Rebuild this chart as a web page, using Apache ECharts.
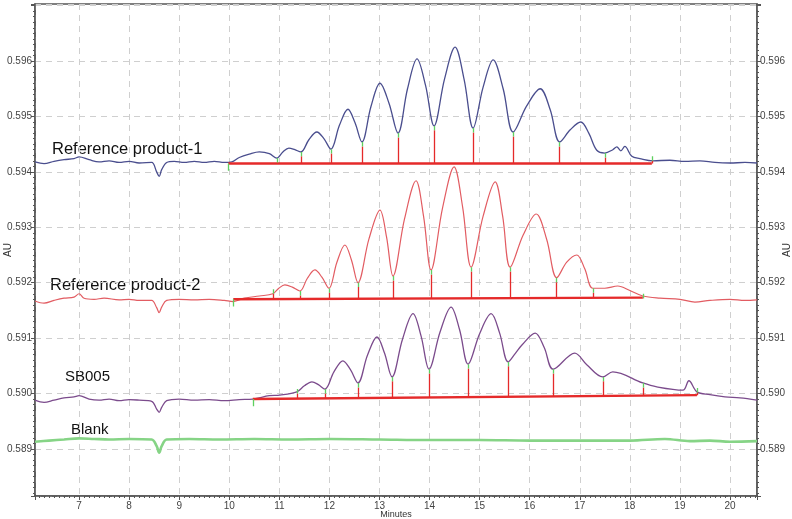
<!DOCTYPE html>
<html><head><meta charset="utf-8">
<script src="https://cdn.jsdelivr.net/npm/echarts@6/dist/echarts.min.js"></script>
<style>html,body{margin:0;padding:0;background:#fff}#c{width:792px;height:519px}</style>
</head><body><div id="c"></div>
<script>
// ---- tick labels ----
const xTickLabels = ['7','8','9','10','11','12','13','14','15','16','17','18','19','20'];
const yTickLabels = ['0.589','0.590','0.591','0.592','0.593','0.594','0.595','0.596'];

// ---- traces [minutes, AU] ----
const rp1Trace = [[6.12,0.59418],[6.3,0.59415],[6.5,0.59419],[6.7,0.59422],[6.9,0.59424],[7.0,0.59427],[7.2,0.59422],[7.4,0.59418],[7.6,0.59420],[7.8,0.59417],[8.0,0.59419],[8.2,0.59416],[8.45,0.59417],[8.55,0.59400],[8.6,0.59392],[8.65,0.59404],[8.75,0.59417],[8.9,0.59419],[9.1,0.59417],[9.3,0.59419],[9.5,0.59417],[9.7,0.59419],[9.9,0.59417],[10.05,0.59418],[10.2,0.59426],[10.4,0.59432],[10.6,0.59436],[10.8,0.59433],[10.95,0.59425],[11.07,0.59436],[11.19,0.59443],[11.31,0.59440],[11.43,0.59436],[11.59,0.59458],[11.75,0.59472],[11.89,0.59460],[12.03,0.59441],[12.20,0.59484],[12.37,0.59513],[12.51,0.59489],[12.65,0.59454],[12.83,0.59518],[13.01,0.59560],[13.19,0.59524],[13.37,0.59470],[13.56,0.59550],[13.75,0.59604],[13.92,0.59556],[14.09,0.59483],[14.30,0.59568],[14.51,0.59625],[14.69,0.59567],[14.87,0.59479],[15.07,0.59553],[15.27,0.59602],[15.47,0.59550],[15.67,0.59472],[15.94,0.59519],[16.21,0.59550],[16.41,0.59512],[16.60,0.59454],[16.81,0.59476],[17.02,0.59490],[17.18,0.59470],[17.34,0.59439],[17.50,0.59434],[17.66,0.59440],[17.74,0.59445],[17.82,0.59438],[17.90,0.59446],[18.04,0.59428],[18.2,0.59424],[18.46,0.59420],[18.8,0.59421],[19.1,0.59419],[19.4,0.59420],[19.7,0.59417],[20.0,0.59416],[20.3,0.59417],[20.54,0.59416]];
const rp2Trace = [[6.12,0.59167],[6.3,0.59163],[6.5,0.59168],[6.7,0.59172],[6.9,0.59174],[7.0,0.59180],[7.1,0.59172],[7.3,0.59170],[7.5,0.59172],[7.8,0.59169],[8.0,0.59170],[8.2,0.59168],[8.45,0.59168],[8.55,0.59155],[8.6,0.59146],[8.65,0.59156],[8.75,0.59168],[9.0,0.59170],[9.3,0.59169],[9.6,0.59170],[9.9,0.59168],[10.08,0.59166],[10.3,0.59172],[10.6,0.59176],[10.87,0.59180],[10.99,0.59190],[11.11,0.59196],[11.26,0.59192],[11.41,0.59185],[11.56,0.59208],[11.71,0.59223],[11.85,0.59210],[11.99,0.59190],[12.15,0.59237],[12.31,0.59268],[12.44,0.59241],[12.57,0.59200],[12.79,0.59279],[13.01,0.59331],[13.14,0.59283],[13.27,0.59212],[13.50,0.59315],[13.73,0.59384],[13.88,0.59320],[14.03,0.59223],[14.26,0.59335],[14.49,0.59409],[14.66,0.59337],[14.83,0.59228],[15.07,0.59320],[15.31,0.59382],[15.46,0.59320],[15.61,0.59228],[15.87,0.59286],[16.13,0.59324],[16.34,0.59278],[16.54,0.59209],[16.74,0.59237],[16.94,0.59250],[17.10,0.59225],[17.26,0.59190],[17.5,0.59190],[17.76,0.59194],[18.0,0.59186],[18.26,0.59176],[18.6,0.59172],[19.0,0.59170],[19.3,0.59165],[19.6,0.59168],[20.0,0.59170],[20.3,0.59168],[20.54,0.59169]];
const sb005Trace = [[6.12,0.58988],[6.3,0.58984],[6.5,0.58988],[6.7,0.58992],[6.9,0.58994],[7.0,0.58996],[7.2,0.58990],[7.4,0.58988],[7.6,0.58990],[7.8,0.58987],[8.0,0.58989],[8.2,0.58988],[8.45,0.58986],[8.55,0.58972],[8.6,0.58966],[8.65,0.58975],[8.75,0.58987],[9.0,0.58990],[9.3,0.58988],[9.6,0.58989],[9.9,0.58987],[10.2,0.58989],[10.47,0.58990],[10.8,0.58996],[11.01,0.58997],[11.35,0.59003],[11.50,0.59014],[11.65,0.59021],[11.78,0.59016],[11.91,0.59008],[12.09,0.59039],[12.27,0.59059],[12.42,0.59043],[12.57,0.59019],[12.76,0.59069],[12.95,0.59102],[13.10,0.59073],[13.25,0.59030],[13.46,0.59098],[13.67,0.59144],[13.83,0.59104],[13.99,0.59044],[14.21,0.59111],[14.43,0.59156],[14.60,0.59115],[14.77,0.59053],[15.00,0.59108],[15.23,0.59144],[15.40,0.59109],[15.57,0.59057],[15.71,0.59072],[15.85,0.59088],[16.11,0.59109],[16.29,0.59083],[16.47,0.59044],[16.90,0.59073],[17.14,0.59052],[17.46,0.59030],[17.66,0.59039],[18.26,0.59019],[18.54,0.59012],[19.06,0.59006],[19.18,0.59023],[19.34,0.59003],[19.6,0.58998],[19.9,0.58994],[20.2,0.58992],[20.54,0.58988]];
const blankTrace = [[6.12,0.58913],[6.4,0.58915],[6.7,0.58917],[7.0,0.58919],[7.3,0.58918],[7.6,0.58917],[8.0,0.58918],[8.45,0.58917],[8.55,0.58905],[8.6,0.58893],[8.65,0.58905],[8.75,0.58917],[9.2,0.58918],[9.8,0.58917],[10.5,0.58918],[11.2,0.58917],[12.0,0.58918],[13.0,0.58917],[14.0,0.58916],[15.0,0.58916],[16.0,0.58915],[17.0,0.58915],[18.0,0.58915],[18.7,0.58918],[19.2,0.58914],[19.6,0.58915],[20.0,0.58913],[20.54,0.58914]];

// ---- integration baselines [start],[end] and drop lines [minutes, top AU] ----
const rp1Base = [[9.98,0.59415],[18.44,0.59415]];
const rp1Drops = [[10.95,0.59425],[11.43,0.59436],[12.03,0.59441],[12.65,0.59454],[13.37,0.59470],[14.09,0.59483],[14.87,0.59479],[15.67,0.59472],[16.60,0.59454],[17.50,0.59434],[18.44,0.59428]];
const rp2Base = [[10.08,0.59170],[18.26,0.59173]];
const rp2Drops = [[10.87,0.59188],[11.41,0.59185],[11.99,0.59190],[12.57,0.59200],[13.27,0.59212],[14.03,0.59223],[14.83,0.59228],[15.61,0.59228],[16.54,0.59209],[17.26,0.59190],[18.26,0.59180]];
const sb005Base = [[10.47,0.58990],[19.34,0.58997]];
const sb005Drops = [[11.35,0.59008],[11.91,0.59008],[12.57,0.59019],[13.25,0.59030],[13.99,0.59044],[14.77,0.59053],[15.57,0.59057],[16.47,0.59044],[17.46,0.59030],[18.26,0.59019],[19.34,0.59010]];

const traceNames = ['Reference product-1','Reference product-2','SB005','Blank'];

const X_MIN = 6.12, X_MAX = 20.54, Y_MIN = 0.58815, Y_MAX = 0.59703;
const GREEN_LEN = 0.00008, START_LEN = 0.00013;

function baseAt(base, t){
  const [a,b] = base;
  return a[1] + (b[1]-a[1])*(t-a[0])/(b[0]-a[0]);
}
const redSegs = [], greenSegs = [];
[[rp1Base,rp1Drops],[rp2Base,rp2Drops],[sb005Base,sb005Drops]].forEach(([base,drops])=>{
  drops.forEach(([t,v])=>{
    const b = baseAt(base,t);
    redSegs.push({coords:[[t,b],[t,v-GREEN_LEN]]});
    greenSegs.push({coords:[[t,v-GREEN_LEN],[t,v]]});
  });
  greenSegs.push({coords:[[base[0][0],base[0][1]],[base[0][0],base[0][1]-START_LEN]]});
});

const colors = ['#4a4e8e','#e25c62','#7b4b8c','#86d486'];
const widths = [1.3,1.2,1.3,2.6];
const traces = [rp1Trace, rp2Trace, sb005Trace, blankTrace];

const series = traces.map((d,i)=>({
  type:'line', name:traceNames[i], data:d, showSymbol:false, smooth:0.35,
  lineStyle:{color:colors[i], width:widths[i]}, z:2, animation:false
}));
[rp1Base, rp2Base, sb005Base].forEach(b=>{
  series.push({type:'line', data:b, showSymbol:false, lineStyle:{color:'#e52a2a', width:2.4}, z:3, animation:false});
});
series.push({type:'lines', coordinateSystem:'cartesian2d', data:redSegs, lineStyle:{color:'#e52a2a', width:1.3, opacity:1}, z:4, animation:false});
series.push({type:'lines', coordinateSystem:'cartesian2d', data:greenSegs, lineStyle:{color:'#5fd05f', width:1.3, opacity:1}, z:4, animation:false});

const axisColor = '#555';
const yLabelFmt = v => { const s = v.toFixed(3); return yTickLabels.includes(s) ? s : ''; };
const xLabelFmt = v => { const s = String(Math.round(v*1000)/1000); return xTickLabels.includes(s) ? s : ''; };
const yAxisCommon = {
  type:'value', min:Y_MIN, max:Y_MAX, splitNumber:9,
  name:'AU', nameLocation:'middle', nameRotate:90, nameMoveOverlap:false,
  nameTextStyle:{fontFamily:'Liberation Sans', fontSize:10, color:'#333'},
  axisLine:{show:true, lineStyle:{color:axisColor, width:1.5}},
  axisTick:{show:true, length:4, lineStyle:{color:axisColor}},
  minorTick:{show:true, splitNumber:10, length:2, lineStyle:{color:axisColor}},
  axisLabel:{formatter:yLabelFmt, fontFamily:'Liberation Sans', fontSize:10, color:'#444', margin:3, showMinLabel:false, showMaxLabel:false}
};

const chart = echarts.init(document.getElementById('c'), null, {renderer:'canvas'});
chart.setOption({
  animation:false,
  backgroundColor:'#fff',
  grid:{left:35, right:35, top:4, bottom:23, show:true, borderColor:axisColor, borderWidth:1.5, containLabel:false, outerBoundsMode:'none'},
  xAxis:{
    type:'value', min:X_MIN, max:X_MAX, splitNumber:14,
    name:'Minutes', nameLocation:'middle', nameGap:14, nameMoveOverlap:false,
    nameTextStyle:{fontFamily:'Liberation Sans', fontSize:9, color:'#333'},
    axisLine:{show:true, lineStyle:{color:axisColor, width:1.5}},
    axisTick:{show:true, length:4, lineStyle:{color:axisColor}},
    minorTick:{show:true, splitNumber:10, length:2, lineStyle:{color:axisColor}},
    axisLabel:{formatter:xLabelFmt, fontFamily:'Liberation Sans', fontSize:10, color:'#444', margin:5, showMinLabel:false, showMaxLabel:false},
    splitLine:{show:true, lineStyle:{color:'#cfcfcf', type:[6,5], width:1}}
  },
  yAxis:[
    Object.assign({}, yAxisCommon, {position:'left', nameGap:22,
      splitLine:{show:true, lineStyle:{color:'#cfcfcf', type:[6,5], width:1}}}),
    Object.assign({}, yAxisCommon, {position:'right', nameGap:25, splitLine:{show:false}})
  ],
  graphic:[
    {type:'text', left:52, top:141, style:{text:traceNames[0], font:'16.5px "Liberation Sans"', fill:'#111'}},
    {type:'text', left:50, top:277, style:{text:traceNames[1], font:'16.5px "Liberation Sans"', fill:'#111'}},
    {type:'text', left:65, top:369, style:{text:traceNames[2], font:'15px "Liberation Sans"', fill:'#111'}},
    {type:'text', left:71, top:422, style:{text:traceNames[3], font:'15px "Liberation Sans"', fill:'#111'}}
  ],
  series:series
});
</script>
</body></html>
